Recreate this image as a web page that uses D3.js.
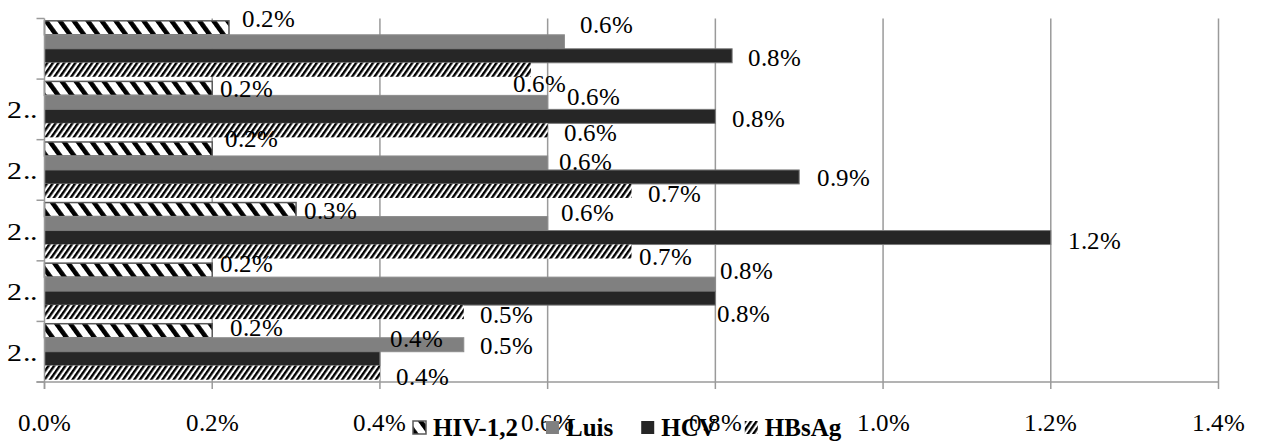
<!DOCTYPE html>
<html>
<head>
<meta charset="utf-8">
<script src="https://cdn.jsdelivr.net/npm/d3@7"></script>
<style>
  @font-face {
    font-family: "SerifReg";
    font-weight: 400;
    src: local("Liberation Serif"), local("LiberationSerif"), local("LiberationSerif-Regular"), local("Times New Roman"), local("TimesNewRomanPSMT");
  }
  html, body { margin: 0; padding: 0; background: #fff; }
  svg { display: block; }
  text { font-family: "SerifReg", "Liberation Serif", "Times New Roman", serif; fill: #000; }
  text.bold { font-family: "Liberation Serif", "Times New Roman", serif; font-weight: bold; }
</style>
</head>
<body>
<svg id="chart" width="1261" height="441"></svg>
<script>
// ---- data (categories listed top to bottom, as drawn) ----
const categories = ["c1", "c2", "c3", "c4", "c5", "c6"];
const categoryLabels = ["", "2..", "2..", "2..", "2..", "2.."];
const seriesNames = ["HIV-1,2", "Luis", "HCV", "HBsAg"];
const hivValues   = [0.22, 0.20, 0.20, 0.30, 0.20, 0.20];
const luisValues  = [0.62, 0.60, 0.60, 0.60, 0.80, 0.50];
const hcvValues   = [0.82, 0.80, 0.90, 1.20, 0.80, 0.40];
const hbsagValues = [0.58, 0.60, 0.70, 0.70, 0.50, 0.40];
const xTicks = [0, 0.2, 0.4, 0.6, 0.8, 1.0, 1.2, 1.4];

// label nudges (dx from bar end, dy from bar centre), per series, per category
const labelDx = [
  [13, 8, 13, 8, 8, 18],
  [16, 19, 11, 13, 5, 16],
  [16, 17, 18, 17, 2, 10],
  [-18, 16, 16, 7, 16, 16]
];
const labelDy = [
  [-10, 0, -11, 1, -7, -3],
  [-18, -6, -2, -11, -14, 1],
  [1, 2, 0, 3, 15, -20],
  [13, 2, 2, 5, 2, 4]
];

const seriesValues = [hivValues, luisValues, hcvValues, hbsagValues];
const FS = 25;
// Times-metric advance widths (em) for the regular-weight strings used
function timesWidth(s) {
  let w = 0;
  for (const ch of s) w += (ch === "." ? 0.25 : ch === "%" ? 0.833 : 0.5);
  return w * FS;
}
function fitText(sel) {
  sel.each(function () {
    const s = this.textContent;
    if (!s) return;
    const natural = this.getComputedTextLength();
    const target = timesWidth(s);
    if (Math.abs(natural - target) > 1.5) {
      d3.select(this).attr("textLength", target).attr("lengthAdjust", "spacingAndGlyphs");
    }
  });
}

const svg = d3.select("#chart");
const defs = svg.append("defs");

// patterns
const pHiv = defs.append("pattern").attr("id", "pHiv")
  .attr("patternUnits", "userSpaceOnUse").attr("width", 11.3).attr("height", 11.3)
  .attr("patternTransform", "rotate(-36)");
pHiv.append("rect").attr("width", 11.3).attr("height", 11.3).attr("fill", "#fff");
pHiv.append("rect").attr("width", 4.6).attr("height", 11.3).attr("fill", "#000");

const pHbs = defs.append("pattern").attr("id", "pHbs")
  .attr("patternUnits", "userSpaceOnUse").attr("width", 4.6).attr("height", 4.6)
  .attr("patternTransform", "rotate(35)");
pHbs.append("rect").attr("width", 4.6).attr("height", 4.6).attr("fill", "#fff");
pHbs.append("rect").attr("width", 2.4).attr("height", 4.6).attr("fill", "#000");

const fills = ["url(#pHiv)", "#808080", "#262626", "url(#pHbs)"];
const strokes = ["#595959", "#8c8c8c", "#7a7a7a", "none"];

const x = d3.scaleLinear().domain([0, 1.4]).range([44.5, 1218.5]);
const y = d3.scaleBand().domain(categories).range([18.5, 382]).paddingInner(0).paddingOuter(0);
const inner = d3.scaleBand().domain(d3.range(seriesNames.length))
  .range([0, y.bandwidth()]).paddingOuter(0.165).paddingInner(0);

const gridColor = "#9a9a9a";

// vertical gridlines
svg.append("g").selectAll("line").data(xTicks.slice(1)).join("line")
  .attr("x1", d => x(d)).attr("x2", d => x(d))
  .attr("y1", y.range()[0]).attr("y2", y.range()[1])
  .attr("stroke", gridColor).attr("stroke-width", 1.5);

// bars
const barG = svg.append("g");
seriesValues.forEach((vals, si) => {
  barG.append("g").selectAll("rect").data(vals).join("rect")
    .attr("x", x(0))
    .attr("y", (d, i) => y(categories[i]) + inner(si))
    .attr("width", d => x(d) - x(0))
    .attr("height", inner.bandwidth())
    .attr("fill", fills[si])
    .attr("stroke", strokes[si])
    .attr("stroke-width", si === 0 ? 1.5 : 1);
});

// axes lines
const axisG = svg.append("g").attr("stroke", gridColor).attr("stroke-width", 1.5);
axisG.append("line").attr("x1", x(0)).attr("x2", x(0)).attr("y1", y.range()[0]).attr("y2", y.range()[1] + 7);
axisG.append("line").attr("x1", x(0) - 8).attr("x2", x(1.4)).attr("y1", y.range()[1]).attr("y2", y.range()[1]);
const bounds = categories.map(c => y(c)).concat([y.range()[1]]);
axisG.selectAll(".yt").data(bounds).join("line")
  .attr("x1", x(0) - 8).attr("x2", x(0)).attr("y1", d => d).attr("y2", d => d);
axisG.selectAll(".xt").data(xTicks).join("line")
  .attr("x1", d => x(d)).attr("x2", d => x(d))
  .attr("y1", y.range()[1]).attr("y2", y.range()[1] + 7);

// x tick labels
svg.append("g").selectAll("text").data(xTicks).join("text")
  .attr("x", d => x(d)).attr("y", 431)
  .attr("text-anchor", "middle").attr("font-size", FS)
  .text(d => d3.format(".1%")(d / 100))
  .call(fitText);

// y labels
svg.append("g").selectAll("text").data(categories).join("text")
  .attr("x", 37).attr("y", d => y(d) + y.bandwidth() / 2)
  .attr("dy", "0.36em")
  .attr("text-anchor", "end").attr("font-size", FS)
  .text((d, i) => categoryLabels[i])
  .each(function () {
    if (!this.textContent) return;
    d3.select(this).attr("textLength", 30).attr("lengthAdjust", "spacingAndGlyphs");
  });

// value labels
const lblG = svg.append("g");
seriesValues.forEach((vals, si) => {
  lblG.append("g").selectAll("text").data(vals).join("text")
    .attr("x", (d, i) => x(d) + labelDx[si][i])
    .attr("y", (d, i) => y(categories[i]) + inner(si) + inner.bandwidth() / 2 + labelDy[si][i])
    .attr("dy", "0.35em")
    .attr("font-size", FS)
    .text(d => d3.format(".1%")(d / 100))
    .call(fitText);
});

// legend
const leg = svg.append("g");
let lx = 413;
seriesNames.forEach((name, si) => {
  leg.append("rect")
    .attr("x", lx).attr("y", 421).attr("width", 13).attr("height", 13)
    .attr("fill", fills[si])
    .attr("stroke", si === 0 ? "#595959" : "none")
    .attr("stroke-width", 1.5);
  const t = leg.append("text").attr("class", "bold")
    .attr("x", lx + 20).attr("y", 436)
    .attr("font-size", FS)
    .text(name);
  const w = t.node().getComputedTextLength();
  lx = lx + 20 + w + 28;
});
</script>
</body>
</html>
